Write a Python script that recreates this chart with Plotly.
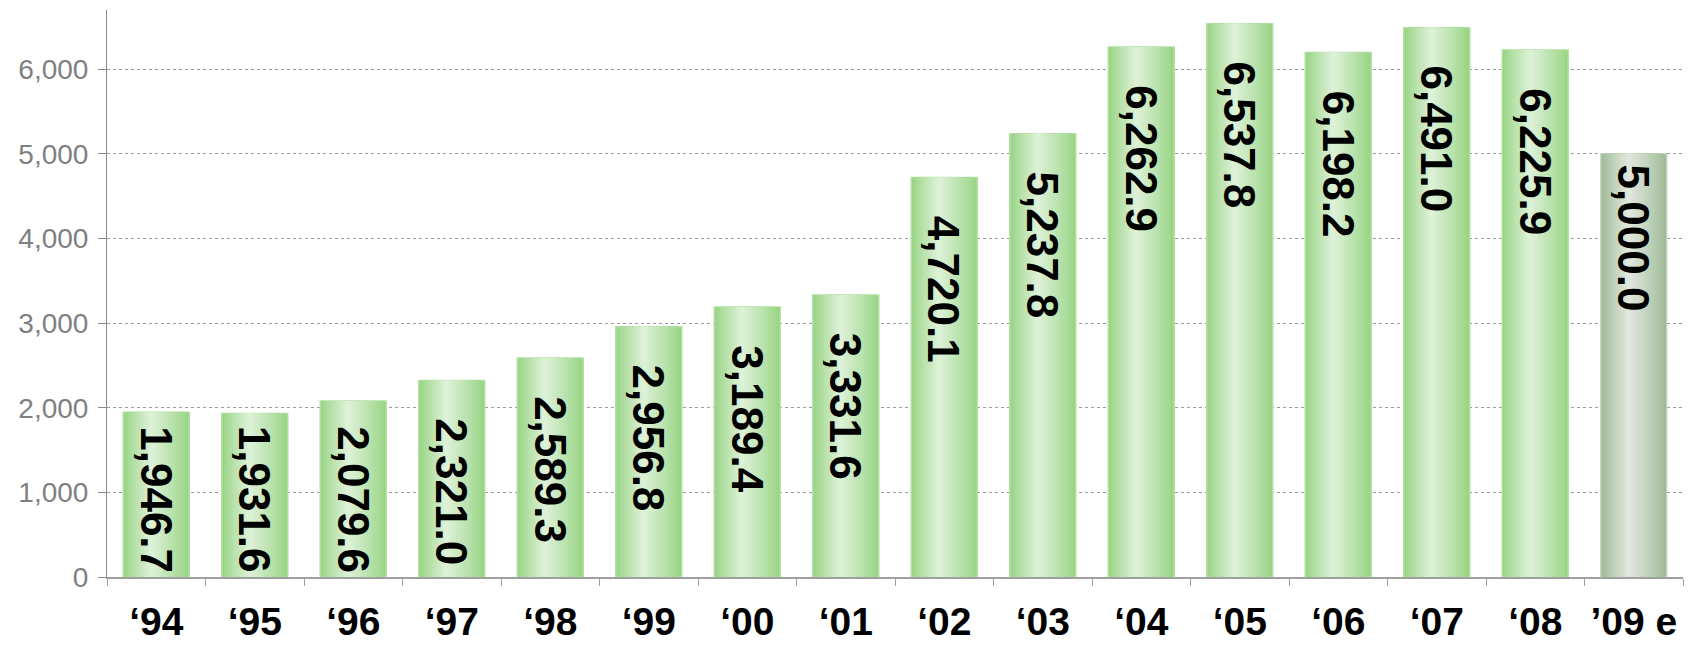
import plotly.graph_objects as go

categories = ["‘94", "‘95", "‘96", "‘97", "‘98", "‘99", "‘00", "‘01", "‘02", "‘03",
              "‘04", "‘05", "‘06", "‘07", "‘08", "’09 e"]
values = [1946.7, 1931.6, 2079.6, 2321.0, 2589.3, 2956.8, 3189.4, 3331.6, 4720.1, 5237.8,
          6262.9, 6537.8, 6198.2, 6491.0, 6225.9, 5000.0]
estimate = [False] * 15 + [True]
labels = [f"{v:,.1f}" for v in values]

Y_MAX = 6700
BAR_W = 0.67
LIGHT_POS = 0.42  # relative position of the highlight inside the bar
N_LAYERS = 16

def lerp(c1, c2, t):
    return "rgb(%d,%d,%d)" % tuple(round(a + (b - a) * t) for a, b in zip(c1, c2))

green_dark, green_light = (152, 212, 132), (220, 241, 214)
grey_dark, grey_light = (158, 186, 150), (224, 231, 220)

fig = go.Figure()
for i in range(N_LAYERS):
    f = 1 - i / N_LAYERS
    t = (i / (N_LAYERS - 1)) ** 0.9
    width = BAR_W * f
    offset = -BAR_W / 2 + LIGHT_POS * BAR_W * (1 - f)
    cols = [lerp(grey_dark, grey_light, t) if e else lerp(green_dark, green_light, t)
            for e in estimate]
    line = dict(width=0)
    if i == 0:
        line = dict(width=1.5, color=["rgb(200,214,196)" if e else "rgb(178,225,162)" for e in estimate])
    fig.add_trace(go.Bar(
        x=categories, y=values, width=[width] * len(values), offset=[offset] * len(values),
        marker=dict(color=cols, line=line), hoverinfo="skip", showlegend=False,
    ))

# value labels inside bars, rotated
plot_h = 645 - 10 - 68
px_per_unit = plot_h / Y_MAX
TEXT_LEN = 152
for c, v, lab, e in zip(categories, values, labels, estimate):
    gap = 13 if e else 40
    if v * px_per_unit - gap < TEXT_LEN + 4:
        fig.add_annotation(x=c, y=0, text=lab, textangle=90, showarrow=False,
                           yanchor="bottom", yshift=2,
                           font=dict(family="Liberation Sans, Arial", size=44, color="black", weight="bold"))
    else:
        fig.add_annotation(x=c, y=v, text=lab, textangle=90, showarrow=False,
                           yanchor="top", yshift=-gap + 4,
                           font=dict(family="Liberation Sans, Arial", size=44, color="black", weight="bold"))

fig.update_layout(
    width=1706, height=645,
    margin=dict(l=107, r=23, t=10, b=68),
    barmode="overlay",
    plot_bgcolor="white", paper_bgcolor="white",
    xaxis=dict(
        type="category", showgrid=False, showline=True, linecolor="#a0a0a0", linewidth=2,
        ticks="outside", tickson="boundaries", ticklen=7, tickcolor="#a0a0a0", tickwidth=1,
        tickfont=dict(family="Liberation Sans, Arial", size=39, color="black", weight="bold"),
        ticklabelstandoff=9, automargin=False,
        range=[-0.5, len(categories) - 0.5],
    ),
    yaxis=dict(
        range=[0, Y_MAX], dtick=1000, tickformat=",", showline=True, linecolor="#8a8a8a", linewidth=1,
        ticks="outside", ticklen=8, tickcolor="#8a8a8a",
        showgrid=True, gridcolor="#9a9a9a", griddash="dot", gridwidth=1, zeroline=False,
        tickfont=dict(family="Liberation Sans, Arial", size=28, color="#808080"),
        ticklabelstandoff=4, automargin=False,
    ),
)

fig.write_html("out.html")
